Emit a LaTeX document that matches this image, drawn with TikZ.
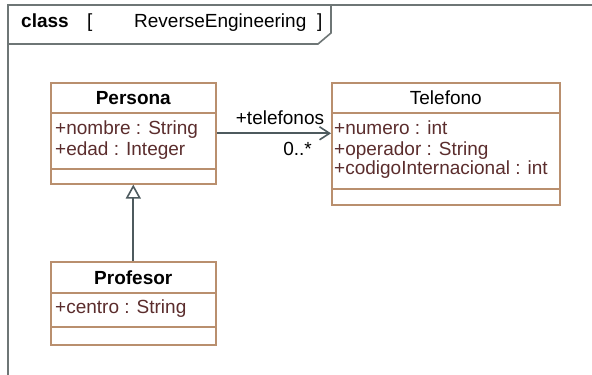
\documentclass[tikz,border=0pt]{standalone}
\usepackage{fontspec}
\setmainfont{Liberation Sans}
\usetikzlibrary{arrows.meta}

\definecolor{boxc}{HTML}{B98F6E}
\definecolor{attrc}{HTML}{5B2D2D}
\definecolor{linec}{HTML}{4D5A5E}
\definecolor{framec}{HTML}{6E7676}

\tikzset{
  classbox/.style={draw=boxc, line width=1.6pt, fill=white, inner sep=0pt,
    anchor=north west},
  sepline/.style={draw=boxc, line width=1.6pt},
  hdr/.style={anchor=base, inner sep=0pt, font=\fontsize{19}{20}\selectfont\bfseries},
  hdrplain/.style={anchor=base, inner sep=0pt, font=\fontsize{19}{20}\selectfont},
  attr/.style={anchor=base west, inner sep=0pt, text=attrc,
    font=\fontsize{19}{20}\selectfont},
  lbl/.style={inner sep=0pt, font=\fontsize{19}{20}\selectfont},
  frameline/.style={draw=framec, line width=1.6pt},
  assoc/.style={draw=linec, line width=1.8pt,
    -{Straight Barb[length=10pt,width=13pt,line width=1.6pt]}},
  generalize/.style={draw=linec, line width=1.8pt,
    -{Triangle[open,length=14pt,width=15pt,line width=1.6pt,fill=white]}},
}

\begin{document}
\begin{tikzpicture}[x=1pt,y=-1pt]
\useasboundingbox (0,0) rectangle (592,375);

% diagram frame with its name tab
\draw[frameline] (592,5) -- (8,5) -- (8,375);
\draw[frameline] (8,44) -- (318,44) -- (331,33) -- (331,5);
\node[anchor=base west, inner sep=0pt, font=\fontsize{19}{20}\selectfont\bfseries] (kw) at (21,27) {class};
\node[anchor=base west, inner sep=0pt, font=\fontsize{19}{20}\selectfont] (lb) at (87,27) {[};
\node[anchor=base west, inner sep=0pt, font=\fontsize{19}{20}\selectfont] (dname) at (134,27) {ReverseEngineering};
\node[anchor=base west, inner sep=0pt, font=\fontsize{19}{20}\selectfont] (rb) at (317,27) {]};

% class Persona
\node[classbox, minimum width=165pt, minimum height=101pt] (persona) at (50,82) {};
\draw[sepline] (persona.west |- 0,113) -- (persona.east |- 0,113);
\draw[sepline] (persona.west |- 0,169) -- (persona.east |- 0,169);
\node[hdr] (personaName) at (persona.north |- 0,104) {Persona};
\node[attr] (pa1) at (55,134) {+nombre : String};
\node[attr] (pa2) at (55,155) {+edad : Integer};

% class Telefono
\node[classbox, minimum width=228pt, minimum height=122pt] (telefono) at (331,82) {};
\draw[sepline] (telefono.west |- 0,113) -- (telefono.east |- 0,113);
\draw[sepline] (telefono.west |- 0,189) -- (telefono.east |- 0,189);
\node[hdrplain] (telefonoName) at (telefono.north |- 0,104) {Telefono};
\node[attr] (ta1) at (334,134) {+numero : int};
\node[attr] (ta2) at (334,155) {+operador : String};
\node[attr] (ta3) at (334,174) {+codigoInternacional : int};

% class Profesor
\node[classbox, minimum width=165pt, minimum height=83pt] (profesor) at (50,261) {};
\draw[sepline] (profesor.west |- 0,293) -- (profesor.east |- 0,293);
\draw[sepline] (profesor.west |- 0,327) -- (profesor.east |- 0,327);
\node[hdr] (profesorName) at (profesor.north |- 0,284) {Profesor};
\node[attr] (pra1) at (55,313) {+centro : String};

% association Persona -> Telefono
\draw[assoc] (persona.east) -- (persona.east -| telefono.west);
\node[lbl, anchor=base] (role) at (280,124) {+telefonos};
\node[lbl, anchor=base east] (mult) at (312,155) {0..*};

% generalization Profesor -> Persona
\draw[generalize] (profesor.north) -- (persona.south);
\end{tikzpicture}
\end{document}
